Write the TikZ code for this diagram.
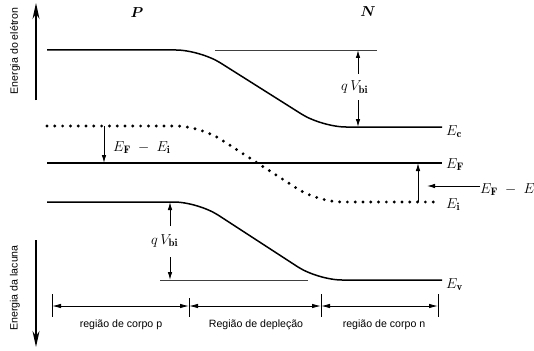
\documentclass[tikz,border=0pt]{standalone}
\usepackage{fontspec}
\setsansfont{Liberation Sans}
\usetikzlibrary{arrows.meta, positioning}

\tikzset{
    band/.style={line width=1.5pt, rounded corners=24pt},
    dotband/.style={line width=3.2pt, line cap=round, dash pattern=on 0pt off 7.8pt, rounded corners=24pt},
    level/.style={line width=1.1pt},
    refline/.style={line width=0.7pt, black!75},
    gaparrow/.style={line width=0.9pt, -{Latex[length=8pt,width=4.5pt]}},
    dimarrow/.style={line width=0.9pt, {Latex[length=9pt,width=4.5pt]}-{Latex[length=9pt,width=4.5pt]}},
    axisarrow/.style={line width=1.3pt, -{Stealth[length=16pt,width=7pt]}},
    elabel/.style={font=\fontsize{15.5}{18}\selectfont, anchor=base west, inner sep=0pt},
    tlabel/.style={font=\sffamily\fontsize{10.6}{12}\selectfont, inner sep=0pt}
}

\begin{document}
\begin{tikzpicture}[x=1pt, y=-1pt]
    \useasboundingbox (0,0) rectangle (534,350);

    % Define the points of the bands
    \coordinate (C1) at (47,50);
    \coordinate (C2) at (200,50);
    \coordinate (C3) at (322,127);
    \coordinate (C4) at (442,127);
    \coordinate (I1) at (47,126);
    \coordinate (I2) at (200,126);
    \coordinate (I3) at (318,202);
    \coordinate (I4) at (440,202);
    \coordinate (F1) at (47,163);
    \coordinate (F2) at (442,163);
    \coordinate (V1) at (47,202);
    \coordinate (V2) at (198,202);
    \coordinate (V3) at (318,280);
    \coordinate (V4) at (442,280);

    % Draw the bands
    \draw[band] (C1) -- (C2) -- (C3) -- (C4);
    \draw[dotband] (I1) -- (I2) -- (I3) -- (I4);
    \draw[level] (F1) -- (F2);
    \draw[band] (V1) -- (V2) -- (V3) -- (V4);

    % Reference levels for the built-in potential
    \draw[refline] (215,50) -- (377,50);
    \draw[refline] (160,280) -- (308,280);

    % Band labels
    \node[elabel] (Ec) at (446,135) {$E_{\mathbf{c}}$};
    \node[elabel] (EF) at (446,168) {$E_{\mathbf{F}}$};
    \node[elabel] (Ei) at (446,208) {$E_{\mathbf{i}}$};
    \node[elabel] (Ev) at (446,288) {$E_{\mathbf{v}}$};

    % Region names
    \node[font=\fontsize{15.5}{18}\selectfont\boldmath] (P) at (137,13) {$P$};
    \node[font=\fontsize{15.5}{18}\selectfont\boldmath] (N) at (368,12) {$N$};

    % Built-in potential, conduction side
    \node[elabel] (qVc) at (341,91) {$q\,V_{\mathbf{bi}}$};
    \draw[gaparrow] (358,74) -- (358,50);
    \draw[gaparrow] (358,100) -- (358,127);

    % Built-in potential, valence side
    \node[elabel] (qVv) at (151,244) {$q\,V_{\mathbf{bi}}$};
    \draw[gaparrow] (170,226) -- (170,202);
    \draw[gaparrow] (170,257) -- (170,280);

    % Fermi level offsets
    \draw[gaparrow] (104,126) -- (104,163);
    \node[elabel] (dFp) at (113,151) {$E_{\mathbf{F}}\;-\;E_{\mathbf{i}}$};
    \draw[gaparrow] (418,202) -- (418,163);
    \node[elabel] (dFn) at (480,193) {$E_{\mathbf{F}}\;-\;E$};
    \draw[gaparrow] (dFn.west |- 0,186) -- (427,186);

    % Energy axes
    \draw[axisarrow] (36,100) -- (36,3);
    \node[tlabel, rotate=90] (Ee) at (15,51) {Energia do elétron};
    \draw[axisarrow] (36,240) -- (36,347);
    \node[tlabel, rotate=90] (Eh) at (15,288) {Energia da lacuna};

    % Region widths
    \coordinate (T1) at (52,306);
    \coordinate (T2) at (189,306);
    \coordinate (T3) at (321,306);
    \coordinate (T4) at (438,306);
    \draw[line width=0.9pt] (52,294) -- (52,317);
    \draw[line width=0.9pt] (189,298) -- (189,317);
    \draw[line width=0.9pt] (321,294) -- (321,317);
    \draw[line width=0.9pt] (438,294) -- (438,317);
    \draw[dimarrow] (T1) -- (T2);
    \draw[dimarrow] (T2) -- (T3);
    \draw[dimarrow] (T3) -- (T4);
    \node[tlabel] (Rp) at (121,325) {região de corpo p};
    \node[tlabel] (Rd) at (256,325) {Região de depleção};
    \node[tlabel] (Rn) at (384,325) {região de corpo n};
\end{tikzpicture}
\end{document}
